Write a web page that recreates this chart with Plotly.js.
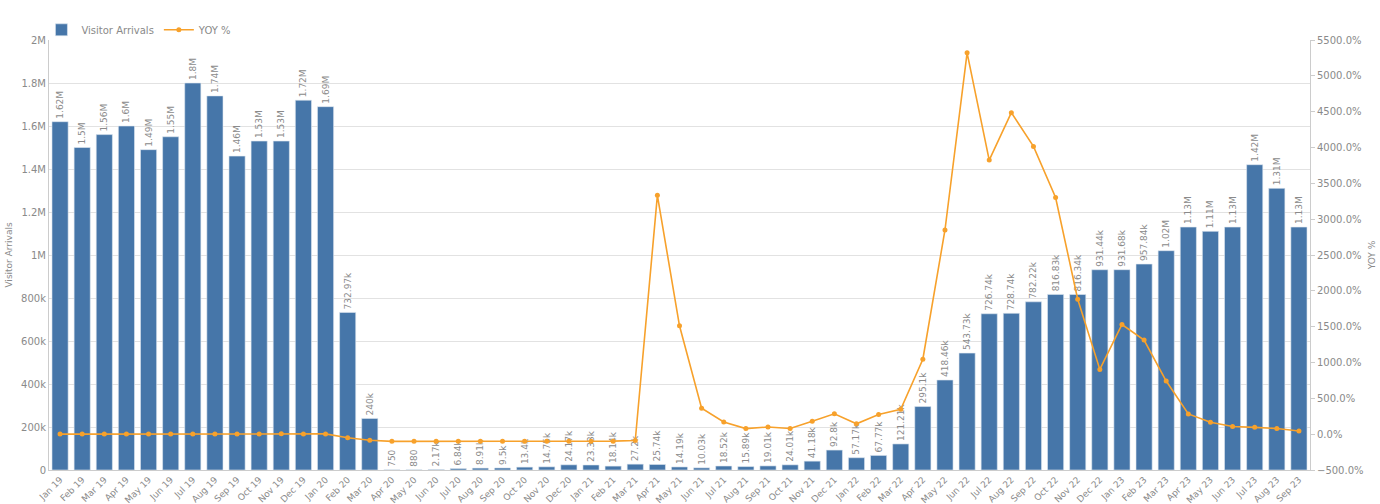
<!DOCTYPE html>
<html>
<head>
<meta charset="utf-8">
<script src="https://cdn.plot.ly/plotly-3.0.1.min.js"></script>
<style>
  html, body { margin: 0; padding: 0; background: #fff; }
  #chart { width: 1380px; height: 504px; }
</style>
</head>
<body>
<div id="chart"></div>
<script>
var months = ['Jan 19','Feb 19','Mar 19','Apr 19','May 19','Jun 19','Jul 19','Aug 19','Sep 19','Oct 19','Nov 19','Dec 19',
  'Jan 20','Feb 20','Mar 20','Apr 20','May 20','Jun 20','Jul 20','Aug 20','Sep 20','Oct 20','Nov 20','Dec 20',
  'Jan 21','Feb 21','Mar 21','Apr 21','May 21','Jun 21','Jul 21','Aug 21','Sep 21','Oct 21','Nov 21','Dec 21',
  'Jan 22','Feb 22','Mar 22','Apr 22','May 22','Jun 22','Jul 22','Aug 22','Sep 22','Oct 22','Nov 22','Dec 22',
  'Jan 23','Feb 23','Mar 23','Apr 23','May 23','Jun 23','Jul 23','Aug 23','Sep 23'];

var arrivals = [1620000,1500000,1560000,1600000,1490000,1550000,1800000,1740000,1460000,1530000,1530000,1720000,
  1690000,732970,240000,750,880,2170,6840,8910,9500,13400,14750,24170,
  23330,18140,27200,25740,14190,10030,18520,15890,19010,24010,41180,92800,
  57170,67770,121210,295100,418460,543730,726740,728740,782220,816830,816340,931440,
  931680,957840,1020000,1130000,1110000,1130000,1420000,1310000,1130000];

var yoy = [1,2,3,1,2,2,1,2,1,3,5,4,
  4,-51,-85,-99.9,-99.9,-99.9,-99.6,-99.5,-99.4,-99.1,-99,-98.6,
  -98.6,-97.5,-88.7,3332,1512,362,171,78,100,79,179,284,
  145,274,346,1046,2849,5321,3824,4486,4015,3302,1882,904,
  1530,1313,741,283,165,108,95,80,44];

function fmt(v) {
  if (v >= 1e6) return parseFloat((v / 1e6).toFixed(2)) + 'M';
  if (v >= 1e3) return parseFloat((v / 1e3).toFixed(2)) + 'k';
  return String(v);
}

var grey = '#8a8a8a';
var fnt = 'DejaVu Sans, sans-serif';

var bars = {
  x: months,
  y: arrivals,
  type: 'bar',
  name: 'Visitor Arrivals',
  marker: { color: '#4676a9', line: { color: '#dfe7f0', width: 0.6 } },
  text: arrivals.map(fmt),
  textposition: 'outside',
  textangle: -90,
  constraintext: 'none',
  cliponaxis: false,
  textfont: { family: fnt, size: 9, color: grey },
  hoverinfo: 'skip'
};

var line = {
  x: months,
  y: yoy,
  type: 'scatter',
  mode: 'lines+markers',
  name: 'YOY %',
  yaxis: 'y2',
  line: { color: '#f7a12b', width: 1.6 },
  marker: { color: '#f7a12b', size: 5 },
  cliponaxis: false,
  hoverinfo: 'skip'
};

var layout = {
  width: 1380,
  height: 504,
  margin: { l: 49, r: 70, t: 40, b: 34, autoexpand: false },
  paper_bgcolor: '#fff',
  plot_bgcolor: '#fff',
  font: { family: fnt, size: 10, color: grey },
  bargap: 0.27,
  showlegend: true,
  legend: {
    orientation: 'h', x: -0.006, xanchor: 'left', y: 0.99, yanchor: 'bottom',
    itemwidth: 30, bgcolor: 'rgba(0,0,0,0)',
    font: { family: fnt, size: 10, color: grey }, traceorder: 'normal'
  },
  xaxis: {
    type: 'category',
    tickangle: -45,
    dtick: 1,
    range: [-0.5, 56.5],
    showgrid: false,
    showline: true,
    linecolor: '#cccccc',
    ticks: '',
    automargin: false,
    tickfont: { family: fnt, size: 9, color: grey }
  },
  yaxis: {
    range: [0, 2000000],
    dtick: 200000,
    tickformat: '~s',
    showgrid: true,
    gridcolor: '#e2e2e2',
    showline: true,
    linecolor: '#cccccc',
    zeroline: false,
    ticks: '',
    automargin: false,
    title: { text: 'Visitor Arrivals', font: { family: fnt, size: 9, color: grey }, standoff: 6 },
    tickfont: { family: fnt, size: 10, color: grey }
  },
  yaxis2: {
    overlaying: 'y',
    side: 'right',
    range: [-500, 5500],
    dtick: 500,
    tickformat: '.1f',
    ticksuffix: '%',
    showgrid: false,
    zeroline: false,
    showline: true,
    linecolor: '#cccccc',
    ticks: 'outside',
    ticklen: 4,
    tickcolor: '#cccccc',
    automargin: false,
    title: { text: 'YOY %', font: { family: fnt, size: 9, color: grey }, standoff: 6 },
    tickfont: { family: fnt, size: 10, color: grey }
  }
};

Plotly.newPlot('chart', [bars, line], layout, { displayModeBar: false, staticPlot: true });
</script>
</body>
</html>
